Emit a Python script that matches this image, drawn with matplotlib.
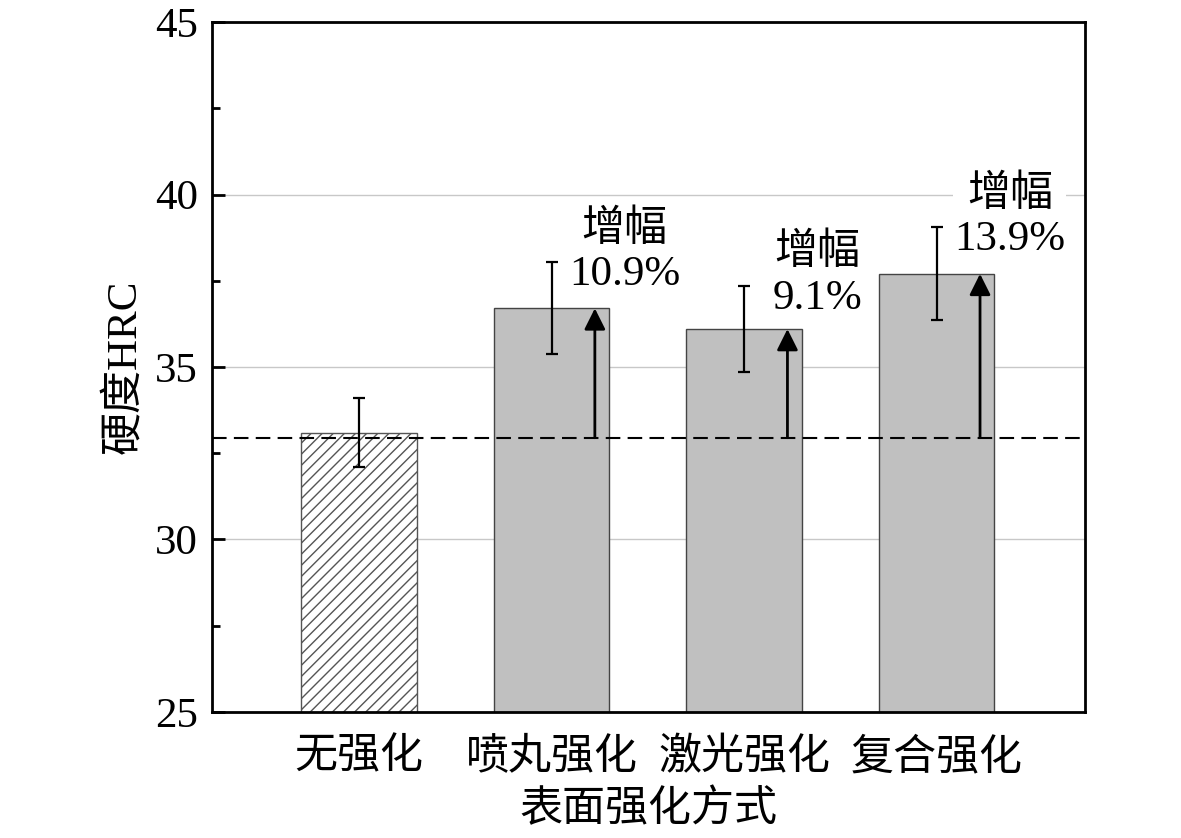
import numpy as np
import matplotlib
matplotlib.use('Agg')
import matplotlib.pyplot as plt
from matplotlib.ticker import MultipleLocator

plt.rcParams['font.family'] = ['Liberation Serif', 'Noto Sans CJK SC']
plt.rcParams['hatch.linewidth'] = 1.0

# data
methods = ['无强化', '喷丸强化', '激光强化', '复合强化']
hardness = [33.1, 36.7, 36.1, 37.7]
hardness_err = [1.0, 1.33, 1.25, 1.35]
baseline = 32.95
gain_labels = ['', '10.9%', '9.1%', '13.9%']

fig = plt.figure(figsize=(11.81, 8.38), dpi=100)
ax = fig.add_axes([0.1795, 0.1504, 0.7392, 0.8233])

x = np.arange(len(methods))
fs = 31

# bars: first one hatched, others plain gray
bars = ax.bar(x, hardness, width=0.6, bottom=0, color='#c0c0c0',
              edgecolor='#444444', linewidth=1.0, zorder=2)
bars[0].set_facecolor('white')
bars[0].set_hatch('///')
bars[0].set_edgecolor('#555555')

ax.errorbar(x, hardness, yerr=hardness_err, fmt='none', ecolor='black',
            elinewidth=1.6, capsize=4, capthick=1.6, zorder=3)

ax.axhline(baseline, color='black', linestyle=(0, (7, 3.5)), linewidth=1.5, zorder=4)

# arrows from baseline to bar tops, with gain labels
for i in range(1, len(methods)):
    xa = x[i] + 0.225
    ax.annotate('', xy=(xa, hardness[i]), xytext=(xa, baseline),
                arrowprops=dict(arrowstyle='-|>', color='black', lw=2,
                                mutation_scale=32, shrinkA=0, shrinkB=0),
                zorder=5)
    ax.text(x[i] + 0.38, hardness[i] + hardness_err[i] + 0.3,
            '增幅\n' + gain_labels[i], ha='center', va='center', fontsize=fs,
            linespacing=1.2, zorder=6,
            bbox=dict(facecolor='white', edgecolor='none', pad=0.5))

ax.set_ylim(25, 45)
ax.set_xlim(-0.763, 3.77)
ax.yaxis.set_major_locator(MultipleLocator(5))
ax.yaxis.set_minor_locator(MultipleLocator(2.5))
ax.set_xticks(x)
ax.set_xticklabels(methods)
ax.grid(axis='y', which='major', color='#c8c8c8', linewidth=1.0, zorder=0)
ax.set_axisbelow(True)

ax.tick_params(axis='both', which='major', direction='in', length=9, width=2,
               labelsize=fs)
ax.tick_params(axis='y', which='minor', direction='in', length=6, width=2)
ax.tick_params(axis='x', which='major', pad=19, length=6)
ax.tick_params(axis='y', which='major', pad=10)

for sp in ax.spines.values():
    sp.set_linewidth(2)

ax.set_ylabel('硬度HRC', fontsize=fs, labelpad=8)
ax.set_xlabel('表面强化方式', fontsize=fs, labelpad=8)

fig.savefig('out.png', dpi=100)
